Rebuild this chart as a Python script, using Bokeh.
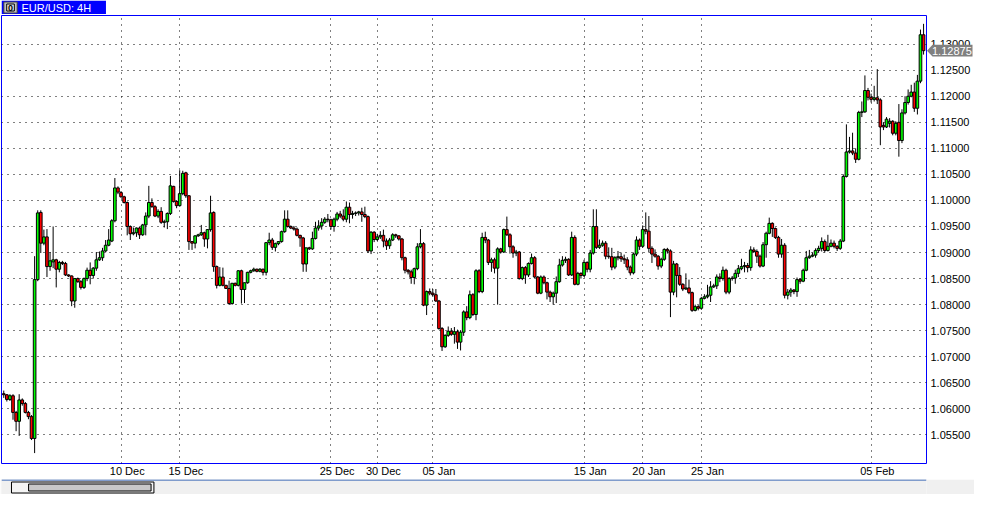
from bokeh.plotting import figure
from bokeh.layouts import column
from bokeh.models import (ColumnDataSource, FixedTicker, LinearAxis, Range1d,
                          PrintfTickFormatter, Grid)
from bokeh.core.properties import value
from bokeh.embed import file_html
from bokeh.resources import INLINE

opens = [1.0629,1.0627,1.0618,1.0625,1.0593,1.0576,1.0617,1.0610,1.0593,1.0585,
 1.0543,1.0848,1.0977,1.0918,1.0930,1.0873,1.0882,1.0886,1.0868,1.0881,
 1.0879,1.0857,1.0855,1.0807,1.0850,1.0844,1.0833,1.0850,1.0866,1.0856,
 1.0870,1.0886,1.0890,1.0903,1.0914,1.0922,1.0961,1.1024,1.1015,1.1007,
 1.0996,1.0950,1.0936,1.0938,1.0947,1.0934,1.0953,1.0970,1.0996,1.0988,
 1.0970,1.0979,1.0958,1.0959,1.0975,1.1027,1.0998,1.0990,1.1013,1.1053,
 1.1009,1.0921,1.0918,1.0932,1.0934,1.0938,1.0926,1.0944,1.0977,1.0873,
 1.0837,1.0853,1.0837,1.0831,1.0802,1.0841,1.0837,1.0865,1.0829,1.0842,
 1.0862,1.0865,1.0868,1.0864,1.0868,1.0862,1.0919,1.0924,1.0910,1.0917,
 1.0921,1.0940,1.0964,1.0950,1.0947,1.0945,1.0933,1.0928,1.0878,1.0909,
 1.0907,1.0927,1.0947,1.0951,1.0958,1.0964,1.0963,1.0950,1.0964,1.0974,
 1.0970,1.0964,1.0987,1.0973,1.0975,1.0976,1.0978,1.0973,1.0969,1.0903,
 1.0939,1.0925,1.0930,1.0933,1.0922,1.0913,1.0924,1.0934,1.0932,1.0926,
 1.0890,1.0866,1.0863,1.0852,1.0869,1.0911,1.0917,1.0799,1.0825,1.0822,
 1.0819,1.0807,1.0754,1.0719,1.0741,1.0749,1.0743,1.0748,1.0728,1.0747,
 1.0786,1.0775,1.0819,1.0781,1.0865,1.0825,1.0929,1.0924,1.0881,1.0886,
 1.0870,1.0907,1.0901,1.0944,1.0934,1.0911,1.0899,1.0901,1.0850,1.0871,
 1.0857,1.0879,1.0890,1.0853,1.0822,1.0853,1.0842,1.0824,1.0815,1.0822,
 1.0844,1.0876,1.0885,1.0887,1.0857,1.0929,1.0839,1.0860,1.0856,1.0881,
 1.0868,1.0899,1.0950,1.0910,1.0914,1.0918,1.0893,1.0892,1.0872,1.0890,
 1.0892,1.0888,1.0886,1.0872,1.0861,1.0897,1.0924,1.0912,1.0944,1.0941,
 1.0908,1.0897,1.0893,1.0874,1.0887,1.0906,1.0903,1.0824,1.0878,1.0856,
 1.0839,1.0830,1.0832,1.0823,1.0789,1.0796,1.0793,1.0812,1.0815,1.0818,
 1.0834,1.0836,1.0853,1.0850,1.0866,1.0824,1.0850,1.0851,1.0860,1.0869,
 1.0873,1.0875,1.0871,1.0905,1.0902,1.0893,1.0874,1.0915,1.0937,1.0956,
 1.0946,1.0929,1.0897,1.0914,1.0818,1.0824,1.0828,1.0825,1.0848,1.0845,
 1.0866,1.0890,1.0893,1.0895,1.0904,1.0908,1.0921,1.0904,1.0912,1.0918,
 1.0912,1.0908,1.0922,1.1046,1.1093,1.1095,1.1091,1.1079,1.1169,1.1170,
 1.1211,1.1198,1.1194,1.1197,1.1193,1.1144,1.1141,1.1148,1.1152,1.1129,
 1.1150,1.1115,1.1168,1.1188,1.1200,1.1208,1.1177,1.1229,1.1318]

highs = [1.0635,1.0628,1.0628,1.0628,1.0596,1.0628,1.0620,1.0613,1.0596,1.0588,
 1.0893,1.0981,1.0981,1.0944,1.0945,1.0901,1.0950,1.0888,1.0884,1.0884,
 1.0882,1.0858,1.0856,1.0850,1.0852,1.0847,1.0852,1.0871,1.0881,1.0872,
 1.0901,1.0902,1.0909,1.0924,1.0945,1.0964,1.1043,1.1027,1.1018,1.1009,
 1.0998,1.0952,1.0948,1.0948,1.0949,1.0955,1.0977,1.1028,1.1004,1.0991,
 1.0983,1.0987,1.0963,1.0977,1.1047,1.1028,1.1000,1.1058,1.1057,1.1055,
 1.1010,1.0922,1.0933,1.0936,1.0953,1.0940,1.0945,1.1009,1.0979,1.0875,
 1.0872,1.0871,1.0838,1.0846,1.0841,1.0842,1.0866,1.0867,1.0842,1.0863,
 1.0867,1.0871,1.0869,1.0870,1.0869,1.0920,1.0938,1.0928,1.0919,1.0922,
 1.0942,1.0981,1.0981,1.0952,1.0951,1.0948,1.0934,1.0930,1.0909,1.0911,
 1.0940,1.0959,1.0962,1.0966,1.0968,1.0974,1.0965,1.0967,1.0978,1.0980,
 1.0983,1.0998,1.0996,1.0980,1.0979,1.0980,1.0986,1.0988,1.0971,1.0941,
 1.0941,1.0936,1.0941,1.0944,1.0927,1.0928,1.0937,1.0936,1.0933,1.0928,
 1.0892,1.0868,1.0867,1.0871,1.0918,1.0945,1.0920,1.0827,1.0831,1.0830,
 1.0830,1.0809,1.0757,1.0743,1.0758,1.0755,1.0757,1.0752,1.0751,1.0789,
 1.0797,1.0827,1.0822,1.0868,1.0868,1.0938,1.0940,1.0926,1.0890,1.0890,
 1.0910,1.0909,1.0946,1.0969,1.0937,1.0914,1.0905,1.0903,1.0873,1.0874,
 1.0881,1.0898,1.0893,1.0855,1.0856,1.0856,1.0844,1.0827,1.0825,1.0854,
 1.0888,1.0893,1.0892,1.0889,1.0940,1.0933,1.0863,1.0862,1.0886,1.0883,
 1.0905,1.0983,1.0983,1.0925,1.0923,1.0922,1.0910,1.0909,1.0893,1.0903,
 1.0900,1.0896,1.0891,1.0875,1.0900,1.0931,1.0927,1.0952,1.0977,1.0970,
 1.0912,1.0906,1.0895,1.0890,1.0908,1.0909,1.0906,1.0884,1.0880,1.0872,
 1.0841,1.0860,1.0848,1.0825,1.0800,1.0799,1.0815,1.0820,1.0838,1.0845,
 1.0840,1.0858,1.0860,1.0873,1.0869,1.0853,1.0855,1.0867,1.0876,1.0888,
 1.0882,1.0880,1.0912,1.0910,1.0906,1.0896,1.0920,1.0940,1.0967,1.0958,
 1.0948,1.0932,1.0926,1.0918,1.0830,1.0832,1.0830,1.0852,1.0851,1.0869,
 1.0903,1.0905,1.0900,1.0908,1.0913,1.0929,1.0925,1.0934,1.0925,1.0923,
 1.0914,1.0926,1.1050,1.1146,1.1122,1.1130,1.1100,1.1172,1.1190,1.1240,
 1.1216,1.1205,1.1220,1.1252,1.1196,1.1150,1.1160,1.1158,1.1154,1.1152,
 1.1185,1.1175,1.1200,1.1213,1.1222,1.1226,1.1241,1.1328,1.1339]

lows = [1.0621,1.0614,1.0615,1.0579,1.0557,1.0548,1.0606,1.0591,1.0580,1.0540,
 1.0515,1.0845,1.0899,1.0914,1.0853,1.0865,1.0870,1.0833,1.0862,1.0876,
 1.0855,1.0853,1.0797,1.0794,1.0842,1.0829,1.0830,1.0845,1.0839,1.0850,
 1.0865,1.0884,1.0884,1.0900,1.0912,1.0920,1.0958,1.1012,1.1005,1.0994,
 1.0933,1.0924,1.0933,1.0930,1.0926,1.0932,1.0933,1.0966,1.0986,1.0968,
 1.0966,1.0955,1.0948,1.0945,1.0972,1.0996,1.0985,1.0988,1.1010,1.1005,
 1.0905,1.0905,1.0908,1.0930,1.0932,1.0911,1.0908,1.0940,1.0863,1.0831,
 1.0835,1.0835,1.0830,1.0800,1.0800,1.0835,1.0835,1.0802,1.0803,1.0840,
 1.0860,1.0863,1.0862,1.0862,1.0856,1.0856,1.0914,1.0905,1.0902,1.0914,
 1.0919,1.0938,1.0948,1.0945,1.0942,1.0931,1.0911,1.0863,1.0863,1.0905,
 1.0905,1.0925,1.0942,1.0944,1.0955,1.0958,1.0944,1.0940,1.0960,1.0966,
 1.0960,1.0958,1.0956,1.0965,1.0970,1.0971,1.0959,1.0966,1.0899,1.0897,
 1.0920,1.0922,1.0926,1.0910,1.0905,1.0907,1.0922,1.0928,1.0923,1.0885,
 1.0860,1.0858,1.0840,1.0839,1.0866,1.0908,1.0797,1.0780,1.0818,1.0815,
 1.0805,1.0752,1.0711,1.0717,1.0738,1.0740,1.0725,1.0715,1.0712,1.0740,
 1.0770,1.0772,1.0778,1.0770,1.0822,1.0822,1.0918,1.0876,1.0863,1.0860,
 1.0800,1.0898,1.0899,1.0932,1.0898,1.0890,1.0893,1.0848,1.0847,1.0840,
 1.0853,1.0877,1.0850,1.0820,1.0820,1.0839,1.0810,1.0805,1.0800,1.0803,
 1.0842,1.0873,1.0880,1.0855,1.0855,1.0837,1.0837,1.0850,1.0853,1.0862,
 1.0862,1.0896,1.0907,1.0907,1.0911,1.0887,1.0888,1.0866,1.0868,1.0885,
 1.0882,1.0878,1.0866,1.0856,1.0858,1.0893,1.0905,1.0909,1.0935,1.0900,
 1.0880,1.0890,1.0867,1.0870,1.0884,1.0898,1.0776,1.0818,1.0814,1.0836,
 1.0826,1.0828,1.0820,1.0786,1.0787,1.0789,1.0790,1.0810,1.0812,1.0805,
 1.0832,1.0830,1.0843,1.0846,1.0820,1.0820,1.0846,1.0840,1.0853,1.0866,
 1.0862,1.0862,1.0865,1.0899,1.0880,1.0871,1.0872,1.0890,1.0935,1.0930,
 1.0926,1.0890,1.0890,1.0812,1.0810,1.0815,1.0820,1.0815,1.0840,1.0843,
 1.0864,1.0888,1.0891,1.0890,1.0900,1.0902,1.0900,1.0902,1.0910,1.0908,
 1.0903,1.0905,1.0920,1.1044,1.1090,1.1087,1.1072,1.1077,1.1160,1.1168,
 1.1192,1.1188,1.1190,1.1185,1.1106,1.1135,1.1139,1.1140,1.1125,1.1125,
 1.1084,1.1110,1.1165,1.1184,1.1198,1.1170,1.1165,1.1225,1.1280]

closes = [1.0627,1.0618,1.0625,1.0593,1.0576,1.0617,1.0610,1.0593,1.0585,1.0543,
 1.0848,1.0976,1.0918,1.0930,1.0873,1.0884,1.0886,1.0868,1.0881,1.0879,
 1.0857,1.0855,1.0807,1.0850,1.0844,1.0833,1.0850,1.0866,1.0856,1.0870,
 1.0886,1.0890,1.0903,1.0914,1.0924,1.0961,1.1024,1.1016,1.1007,1.0996,
 1.0950,1.0936,1.0938,1.0947,1.0934,1.0953,1.0970,1.0996,1.0988,1.0970,
 1.0979,1.0958,1.0959,1.0975,1.1028,1.0998,1.0990,1.1013,1.1052,1.1009,
 1.0921,1.0918,1.0932,1.0934,1.0938,1.0926,1.0944,1.0976,1.0873,1.0837,
 1.0853,1.0837,1.0831,1.0802,1.0841,1.0837,1.0865,1.0829,1.0842,1.0862,
 1.0865,1.0868,1.0864,1.0868,1.0862,1.0919,1.0924,1.0910,1.0917,1.0921,
 1.0940,1.0964,1.0950,1.0947,1.0945,1.0933,1.0928,1.0878,1.0909,1.0907,
 1.0927,1.0947,1.0951,1.0958,1.0964,1.0963,1.0950,1.0964,1.0974,1.0970,
 1.0964,1.0987,1.0973,1.0975,1.0976,1.0978,1.0973,1.0969,1.0903,1.0939,
 1.0925,1.0930,1.0933,1.0922,1.0913,1.0924,1.0934,1.0932,1.0926,1.0890,
 1.0866,1.0863,1.0852,1.0869,1.0911,1.0917,1.0799,1.0825,1.0822,1.0819,
 1.0807,1.0754,1.0719,1.0741,1.0749,1.0743,1.0748,1.0728,1.0747,1.0786,
 1.0775,1.0819,1.0781,1.0865,1.0825,1.0929,1.0924,1.0881,1.0886,1.0870,
 1.0907,1.0901,1.0944,1.0934,1.0911,1.0899,1.0901,1.0850,1.0871,1.0857,
 1.0879,1.0890,1.0853,1.0822,1.0853,1.0842,1.0824,1.0815,1.0822,1.0844,
 1.0876,1.0885,1.0887,1.0857,1.0929,1.0839,1.0860,1.0856,1.0881,1.0868,
 1.0899,1.0950,1.0910,1.0914,1.0918,1.0893,1.0892,1.0872,1.0890,1.0892,
 1.0888,1.0886,1.0872,1.0861,1.0897,1.0924,1.0912,1.0944,1.0941,1.0908,
 1.0897,1.0893,1.0874,1.0887,1.0906,1.0903,1.0824,1.0878,1.0856,1.0839,
 1.0830,1.0832,1.0823,1.0789,1.0796,1.0793,1.0812,1.0815,1.0818,1.0834,
 1.0836,1.0853,1.0850,1.0866,1.0824,1.0850,1.0851,1.0860,1.0869,1.0873,
 1.0875,1.0871,1.0905,1.0902,1.0893,1.0874,1.0915,1.0937,1.0956,1.0946,
 1.0929,1.0897,1.0914,1.0818,1.0824,1.0828,1.0825,1.0848,1.0845,1.0866,
 1.0890,1.0893,1.0895,1.0904,1.0908,1.0921,1.0904,1.0912,1.0918,1.0912,
 1.0908,1.0922,1.1046,1.1093,1.1095,1.1091,1.1079,1.1169,1.1170,1.1211,
 1.1198,1.1194,1.1197,1.1193,1.1141,1.1141,1.1156,1.1152,1.1129,1.1148,
 1.1115,1.1168,1.1188,1.1200,1.1208,1.1177,1.1229,1.1318,1.12875]

price_ticks = [1.055, 1.060, 1.065, 1.070, 1.075, 1.080, 1.085, 1.090,
               1.095, 1.100, 1.105, 1.110, 1.115, 1.120, 1.125, 1.130]
day_labels = ["10 Dec", "15 Dec", "25 Dec", "30 Dec", "05 Jan",
              "15 Jan", "20 Jan", "25 Jan", "05 Feb"]
day_index = [38, 57, 106, 121, 139, 188, 207, 226, 281]
last_price = 1.12875
chart_title = "EUR/USD: 4H"

FONT = "Liberation Sans"
W = 974
HEAD_H, FOOT_H = 14, 15
MAIN_H = 494 - HEAD_H - FOOT_H
TOP, BOTTOM, LEFT, RIGHT = 1, 13, 1, 48
FRAME_W = W - LEFT - RIGHT
FRAME_H = MAIN_H - TOP - BOTTOM
X0, X1 = -0.73, 298.95
Y0, Y1 = 1.0495, 1.1355
PX_X = (X1 - X0) / FRAME_W   # data units per pixel
PX_Y = (Y1 - Y0) / FRAME_H

# ---------------- header strip ----------------
head = figure(width=W, height=HEAD_H, output_backend="svg", toolbar_location=None,
              x_range=Range1d(0, W), y_range=Range1d(HEAD_H, 0),
              x_axis_location=None, y_axis_location=None,
              min_border=0, outline_line_color=None)
head.grid.visible = False
head.background_fill_color = "white"
head.border_fill_color = "white"
head.quad(left=[0], right=[110], top=[0], bottom=[HEAD_H], fill_color="#0000ff",
          line_color=None)
head.quad(left=[2.5], right=[16.5], top=[1.5], bottom=[12.5], fill_color="#c0c0c0",
          line_color="#404040", line_width=1)
head.quad(left=[5.5], right=[13.5], top=[3.5], bottom=[10.5], fill_color="#e8e8e8",
          line_color="#000000", line_width=1)
head.text(x=[9.5], y=[7.5], text=["0"], text_font=value(FONT), text_font_size="9px",
          text_font_style="bold", text_color="#000000", text_align="center",
          text_baseline="middle")
head.text(x=[21], y=[7.5], text=[chart_title], text_font=value(FONT),
          text_font_size="11px", text_color="#ffffff", text_align="left",
          text_baseline="middle")

# ---------------- main chart ----------------
n = len(closes)
src = ColumnDataSource(dict(
    x=list(range(n)), o=opens, h=highs, l=lows, c=closes,
    top=[max(a, b) for a, b in zip(opens, closes)],
    bot=[min(a, b) for a, b in zip(opens, closes)],
    col=["#00ff00" if c >= o else "#ff0000" for o, c in zip(opens, closes)],
))

p = figure(width=W, height=MAIN_H, output_backend="svg", toolbar_location=None,
           x_range=Range1d(X0, X1), y_range=Range1d(Y0, Y1),
           x_axis_location=None, y_axis_location=None,
           min_border_left=LEFT, min_border_right=RIGHT,
           min_border_top=TOP, min_border_bottom=BOTTOM)
for r in list(p.center):
    if isinstance(r, Grid):
        p.center.remove(r)
p.background_fill_color = "white"
p.border_fill_color = "white"
p.outline_line_color = "#0000ff"
p.outline_line_width = 1

grid_kw = dict(grid_line_color="#000000", grid_line_dash="1 5", grid_line_width=1)
p.add_layout(Grid(dimension=1, ticker=FixedTicker(ticks=price_ticks), **grid_kw))
p.add_layout(Grid(dimension=0, ticker=FixedTicker(ticks=day_index), **grid_kw))

yax = LinearAxis(ticker=FixedTicker(ticks=price_ticks),
                 formatter=PrintfTickFormatter(format="%.5f"),
                 axis_line_color=None, major_tick_line_color=None,
                 minor_tick_line_color=None, major_tick_in=0, major_tick_out=0,
                 major_label_standoff=4, major_label_text_font=FONT,
                 major_label_text_font_size="11px", major_label_text_color="#000000")
p.add_layout(yax, "right")

label_pos = [d + 2 for d in day_index]
xax = LinearAxis(ticker=FixedTicker(ticks=label_pos),
                 major_label_overrides={lp: lab for lp, lab in zip(label_pos, day_labels)},
                 axis_line_color=None, major_tick_line_color=None,
                 minor_tick_line_color=None, major_tick_in=0, major_tick_out=0,
                 major_label_standoff=1, major_label_text_font=FONT,
                 major_label_text_font_size="11px", major_label_text_color="#000000")
p.add_layout(xax, "below")

p.segment(x0="x", x1="x", y0="l", y1="h", source=src, line_color="#000000", line_width=1)
p.vbar(x="x", width=0.85, top="top", bottom="bot", source=src,
       fill_color="col", line_color="#000000", line_width=1)

# last-price marker in the price-scale area (glyphs drawn at overlay level)
xr = X1
mk = p.patch(x=[xr + 0.5 * PX_X, xr + 6 * PX_X, xr + 46 * PX_X, xr + 46 * PX_X, xr + 6 * PX_X],
             y=[last_price, last_price + 6 * PX_Y, last_price + 6 * PX_Y,
                last_price - 6 * PX_Y, last_price - 6 * PX_Y],
             fill_color="#808080", line_color=None)
mk.level = "overlay"
mt = p.text(x=[xr + 5.5 * PX_X], y=[last_price], text=["%.5f" % last_price],
            text_font=value(FONT), text_font_size="11px", text_color="#ffffff",
            text_align="left", text_baseline="middle")
mt.level = "overlay"

# ---------------- footer strip ----------------
foot = figure(width=W, height=FOOT_H, output_backend="svg", toolbar_location=None,
              x_range=Range1d(0, W), y_range=Range1d(FOOT_H, 0),
              x_axis_location=None, y_axis_location=None,
              min_border=0, outline_line_color=None)
foot.grid.visible = False
foot.background_fill_color = "#f0f0f0"
foot.border_fill_color = "#f0f0f0"
foot.quad(left=[0], right=[W], top=[0], bottom=[1], fill_color="#1048a8", line_color=None)
foot.quad(left=[10.5], right=[160.5], top=[2.5], bottom=[13.5], fill_color="#f4f4f4",
          line_color="#000000", line_width=1)
foot.quad(left=[28.5], right=[157.5], top=[4.5], bottom=[11.5], fill_color="#c8c8c8",
          line_color="#000000", line_width=1)

layout = column(head, p, foot, spacing=0)
open("out.html", "w").write(file_html(layout, INLINE))
